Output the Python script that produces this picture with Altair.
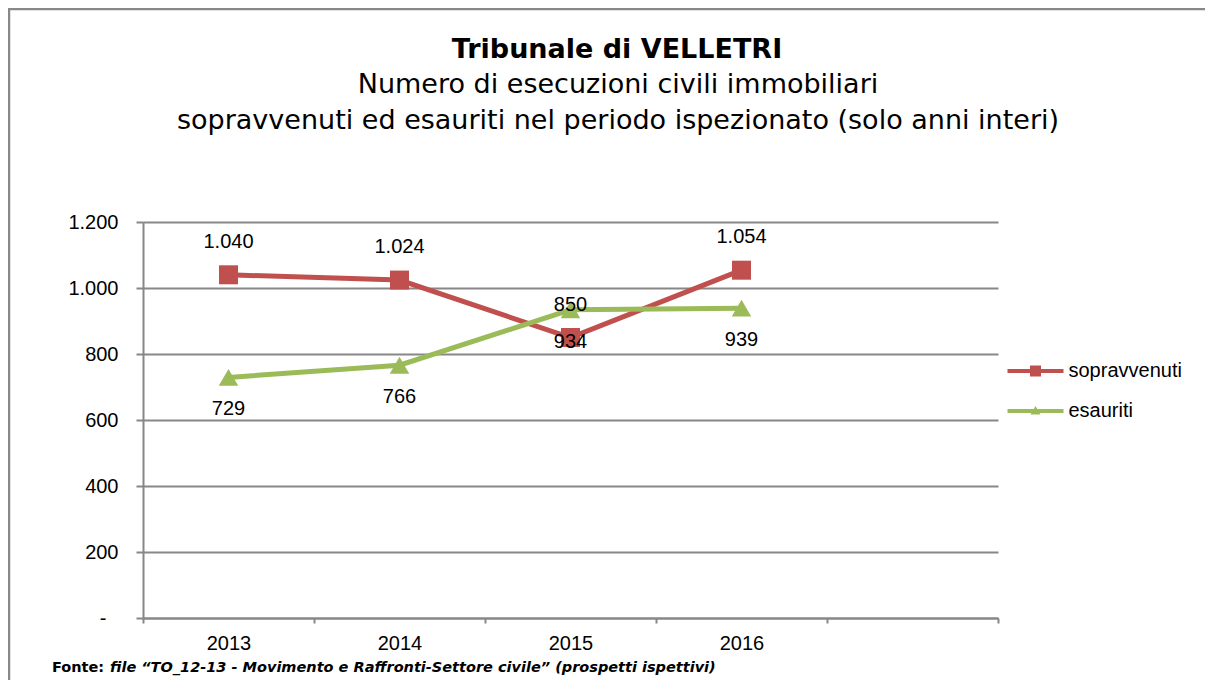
import altair as alt
import pandas as pd

# ---- data ----
years = [2013, 2014, 2015, 2016]
sopravvenuti = [1040, 1024, 850, 1054]
esauriti = [729, 766, 934, 939]
series_names = ["sopravvenuti", "esauriti"]
y_ticks = [0, 200, 400, 600, 800, 1000, 1200]
x_bounds = [2012.5, 2013.5, 2014.5, 2015.5, 2016.5, 2017.5]
title_text = "Tribunale di VELLETRI"
subtitle_lines = [
    "Numero di esecuzioni civili immobiliari",
    "sopravvenuti ed esauriti nel periodo ispezionato (solo anni interi)",
]
source_label = "Fonte:"
source_text = "file \u201cTO_12-13 - Movimento e Raffronti-Settore civile\u201d (prospetti ispettivi)"

RED = "#C0504D"
GREEN = "#9BBB59"
GRID = "#878787"
FONT = "Liberation Sans"
TFONT = "DejaVu Sans"
FS = 20

W, H = 855, 396
PAD_L, PAD_T = 135, 214
TOTAL_W, TOTAL_H = 1213 - 16, 688 - 16
OX, OY = 8 + PAD_L, 8 + PAD_T  # page position of the plot origin

df = pd.DataFrame({
    "anno": years + years,
    "valore": sopravvenuti + esauriti,
    "serie": [series_names[0]] * len(years) + [series_names[1]] * len(years),
})

x_enc = alt.X(
    "anno:Q",
    scale=alt.Scale(domain=[x_bounds[0], x_bounds[-1]], nice=False, zero=False),
    axis=alt.Axis(
        values=x_bounds,
        labelExpr="datum.value < 2016 ? toString(datum.value + 0.5) : ''",
        labelOffset=W / 10,
        labelFlush=False,
        labelOverlap=False,
        labelFont=FONT,
        labelFontSize=FS,
        labelColor="black",
        labelPadding=10,
        tickSize=5,
        tickColor=GRID,
        tickWidth=2,
        domainColor=GRID,
        domainWidth=2,
        grid=False,
        title=None,
    ),
)
y_enc = alt.Y(
    "valore:Q",
    scale=alt.Scale(domain=[0, 1200], nice=False),
    axis=alt.Axis(
        values=y_ticks,
        labelExpr="datum.value == 0 ? '-' : replace(format(datum.value, ','), ',', '.')",
        labelFont=FONT,
        labelFontSize=FS,
        labelColor="black",
        labelPadding={"condition": {"test": "datum.value == 0", "value": 30}, "value": 18},
        tickSize=7,
        tickColor=GRID,
        tickWidth=2,
        domainColor=GRID,
        domainWidth=2,
        grid=True,
        gridColor=GRID,
        gridWidth=2,
        title=None,
    ),
)

base = alt.Chart(df).transform_calculate(
    lab="replace(format(datum.valore, ','), ',', '.')"
).encode(x=x_enc, y=y_enc)

red = base.transform_filter(alt.datum.serie == series_names[0])
green = base.transform_filter(alt.datum.serie == series_names[1])

red_line = red.mark_line(color=RED, strokeWidth=5)
red_pts = red.mark_point(shape="square", filled=True, size=361, color=RED, opacity=1)
green_line = green.mark_line(color=GREEN, strokeWidth=5)
green_pts = green.mark_point(shape="triangle-up", filled=True, size=380, color=GREEN, opacity=1)
red_lab = red.mark_text(dy=-33, fontSize=FS, font=FONT, color="black").encode(text="lab:N")
green_lab = green.mark_text(dy=32, fontSize=FS, font=FONT, color="black").encode(text="lab:N")

# legend symbols: line with marker (custom paths, unit = 10px)
sq_path = "M-2.8,-0.2L2.8,-0.2L2.8,0.2L-2.8,0.2Z M-0.55,-0.55L0.55,-0.55L0.55,0.55L-0.55,0.55Z"
tri_path = "M-2.8,-0.2L2.8,-0.2L2.8,0.2L-2.8,0.2Z M0,-0.5L0.5,0.35L-0.5,0.35Z"
leg_props = dict(
    orient="none", legendX=882.5, legendY=139, padding=0, rowPadding=20,
    labelOffset=23, labelFont=FONT, labelFontSize=FS, labelColor="black",
    symbolSize=400, symbolStrokeWidth=0, title=None, labelLimit=300,
)
legend_layer = alt.Chart(df).transform_filter("false").mark_point(filled=True, opacity=1).encode(
    color=alt.Color("serie:N", scale=alt.Scale(domain=series_names, range=[RED, GREEN]),
                    legend=alt.Legend(**leg_props)),
    shape=alt.Shape("serie:N", scale=alt.Scale(domain=series_names, range=[sq_path, tri_path]),
                    legend=alt.Legend(**leg_props)),
)

one = pd.DataFrame({"a": [0]})
border_top = alt.Chart(one).mark_rule(color="#888888", strokeWidth=2.5).encode(
    x=alt.value(8 - OX), x2=alt.value(1213 - OX), y=alt.value(9 - OY)
)
border_left = alt.Chart(one).mark_rule(color="#888888", strokeWidth=2.5).encode(
    x=alt.value(9 - OX), y=alt.value(8 - OY), y2=alt.value(688 - OY)
)

title_df = pd.DataFrame({"t": [title_text], "s1": [subtitle_lines[0]], "s2": [subtitle_lines[1]]})
title_main = alt.Chart(title_df).mark_text(align="center", baseline="middle", font=TFONT, fontSize=27,
                                           fontWeight="bold", color="black").encode(
    text="t:N", x=alt.value(617 - OX), y=alt.value(50 - OY))
title_s1 = alt.Chart(title_df).mark_text(align="center", baseline="middle", font=TFONT, fontSize=27,
                                         color="black").encode(
    text="s1:N", x=alt.value(618 - OX), y=alt.value(85 - OY))
title_s2 = alt.Chart(title_df).mark_text(align="center", baseline="middle", font=TFONT, fontSize=27,
                                         color="black").encode(
    text="s2:N", x=alt.value(618 - OX), y=alt.value(121 - OY))

src_df = pd.DataFrame({"a": [source_label], "b": [source_text]})
src1 = alt.Chart(src_df).mark_text(align="left", baseline="middle", font=TFONT, fontSize=14.5,
                                   fontWeight="bold", color="black").encode(
    text="a:N", x=alt.value(52 - OX), y=alt.value(668 - OY))
src2 = alt.Chart(src_df).mark_text(align="left", baseline="middle", font=TFONT, fontSize=14.5,
                                   fontWeight="bold", fontStyle="italic", color="black").encode(
    text="b:N", x=alt.value(110 - OX), y=alt.value(668 - OY))

chart = alt.layer(
    red_line, red_pts, green_line, green_pts, red_lab, green_lab, legend_layer,
    border_top, border_left, title_main, title_s1, title_s2, src1, src2,
).resolve_scale(color="independent", shape="independent").properties(
    width=W,
    height=H,
    padding={"left": PAD_L, "top": PAD_T, "right": TOTAL_W - PAD_L - W, "bottom": TOTAL_H - PAD_T - H},
    autosize=alt.AutoSizeParams(type="none"),
    background="white",
).configure_view(stroke=None)

chart.save("out.html", embed_options={"renderer": "svg", "actions": False})
